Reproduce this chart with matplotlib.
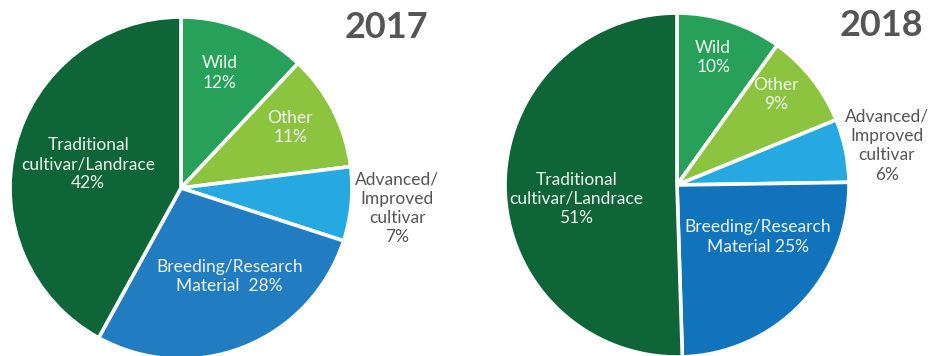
import numpy as np
import matplotlib.pyplot as plt

plt.rcParams['font.family'] = ['Lato', 'DejaVu Sans']

categories = ['Wild', 'Other', 'Advanced/\nImproved\ncultivar',
              'Breeding/Research\nMaterial', 'Traditional\ncultivar/Landrace']
values_2017 = [12, 11, 7, 28, 42]
values_2018 = [10, 9, 6, 25, 51]

labels_2017 = ['Wild\n12%', 'Other\n11%', 'Advanced/\nImproved\ncultivar\n7%',
               'Breeding/Research\nMaterial  28%', 'Traditional\ncultivar/Landrace\n42%']
labels_2018 = ['Wild\n10%', 'Other\n9%', 'Advanced/\nImproved\ncultivar\n6%',
               'Breeding/Research\nMaterial 25%', 'Traditional\ncultivar/Landrace\n51%']

green_dark = '#0e6537'
green = '#27a15a'
lime = '#8cc43f'
sky = '#25a9e0'
colors_2017 = [green, lime, sky, '#227cc1', green_dark]
colors_2018 = [green, lime, sky, '#1173bb', green_dark]
text_colors = ['#eef5ee', '#eef5ee', '#555555', '#eef5ee', '#eef5ee']

fig = plt.figure(figsize=(9.3, 3.56), dpi=100)
ax = fig.add_axes([0, 0, 1, 1])


def draw_pie(values, colors, labels, center, radius, dist, dtheta):
    wedges, _ = ax.pie(values, colors=colors, startangle=90, counterclock=False,
                       center=center, radius=radius,
                       wedgeprops=dict(edgecolor='white', linewidth=2.6))
    for w, lab, tc, f, dt in zip(wedges, labels, text_colors, dist, dtheta):
        th = np.deg2rad((w.theta1 + w.theta2) / 2 + dt)
        x = center[0] + radius * f * np.cos(th)
        y = center[1] + radius * f * np.sin(th)
        ax.text(x, y, lab, ha='center', va='center', color=tc,
                fontsize=12.5, linespacing=1.25)


draw_pie(values_2017, colors_2017, labels_2017, (181, 168), 171,
         [0.71, 0.73, 1.27, 0.59, 0.56], [3, 2, 0, 7, 0])
draw_pie(values_2018, colors_2018, labels_2018, (677, 171), 172,
         [0.77, 0.78, 1.24, 0.56, 0.59], [2, 4, -1, 11, 7])

ax.text(386, 328, '2017', ha='center', va='center', fontsize=26,
        fontweight='bold', color='#555555')
ax.text(881, 331, '2018', ha='center', va='center', fontsize=26,
        fontweight='bold', color='#555555')

ax.set_xlim(0, 930)
ax.set_ylim(0, 356)
ax.set_aspect('equal')
ax.axis('off')

fig.savefig('out.png', dpi=100, facecolor='white')
